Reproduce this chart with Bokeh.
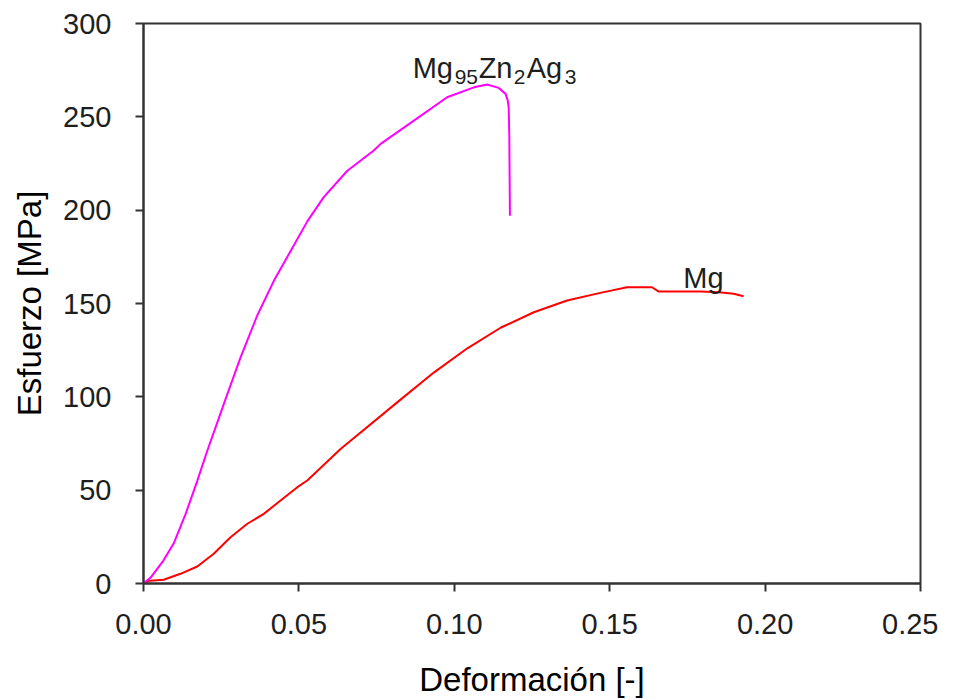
from bokeh.plotting import figure
from bokeh.models import FixedTicker, NumeralTickFormatter, Range1d
from bokeh.embed import file_html
from bokeh.resources import INLINE
from bokeh.core.properties import value

# Mg95Zn2Ag3 alloy
alloy_strain = [0, 0.0023, 0.0064, 0.0097, 0.0135, 0.0173, 0.0205, 0.0258, 0.0312,
                0.0366, 0.0419, 0.0473, 0.0527, 0.058, 0.0655, 0.0741, 0.0763,
                0.087, 0.0977, 0.1063, 0.1106, 0.1143, 0.1165, 0.1172, 0.1175,
                0.1177, 0.1179]
alloy_stress = [0, 3.2, 12.3, 21.4, 37, 55, 71, 96, 121,
                143.6, 162, 178, 194, 207, 221, 232, 235.5,
                248, 260.5, 265.8, 267.3, 265.5, 262.3, 258.7, 255,
                240, 197]

# pure Mg
mg_strain = [0, 0.002, 0.0065, 0.0119, 0.0173, 0.0226, 0.028, 0.0334, 0.0387,
             0.0441, 0.0495, 0.0527, 0.0634, 0.0827, 0.0934, 0.1042,
             0.1149, 0.1256, 0.1363, 0.147, 0.1556, 0.1636, 0.1658, 0.1792,
             0.1851, 0.1899, 0.1931]
mg_stress = [0, 1.5, 2, 5.2, 9.1, 15.9, 24.8, 32, 37.3,
             44.5, 51.6, 55.2, 72, 98.5, 113, 126,
             137, 145.3, 151.6, 155.7, 158.7, 158.7, 156.4, 156.4,
             156, 155.2, 153.9]

x_ticks = [0.0, 0.05, 0.10, 0.15, 0.20, 0.25]
y_ticks = [0, 50, 100, 150, 200, 250, 300]

FONT = "Liberation Sans"
TXT = "#1e1e1e"

p = figure(width=938, height=700, output_backend="svg", toolbar_location=None,
           x_range=Range1d(0, 0.25), y_range=Range1d(0, 300),
           min_border_left=143, min_border_right=18, min_border_top=23,
           min_border_bottom=117)
p.background_fill_color = "white"
p.border_fill_color = "white"
p.outline_line_color = "#333333"
p.outline_line_width = 2
p.grid.visible = False

for ax in (p.xaxis[0], p.yaxis[0]):
    ax.axis_line_color = "#333333"
    ax.axis_line_width = 2
    ax.major_tick_line_color = "#333333"
    ax.major_tick_line_width = 2
    ax.major_tick_out = 8
    ax.major_tick_in = 0
    ax.minor_tick_out = 0
    ax.minor_tick_in = 0
    ax.major_label_text_font = FONT
    ax.major_label_text_font_size = "29px"
    ax.major_label_text_color = TXT
    ax.axis_label_text_font = FONT
    ax.axis_label_text_font_size = "33px"
    ax.axis_label_text_font_style = "normal"
    ax.axis_label_text_color = "#000000"

p.xaxis.ticker = FixedTicker(ticks=x_ticks)
p.yaxis.ticker = FixedTicker(ticks=y_ticks)
p.xaxis.formatter = NumeralTickFormatter(format="0.00")
p.yaxis.formatter = NumeralTickFormatter(format="0")
p.xaxis.axis_label = "Deformación [-]"
p.yaxis.axis_label = "Esfuerzo [MPa]"
p.xaxis.major_label_standoff = 22
p.yaxis.major_label_standoff = 24
p.xaxis.axis_label_standoff = 24
p.yaxis.axis_label_standoff = 12

p.line(mg_strain, mg_stress, line_color="#ff0000", line_width=2)
p.line(alloy_strain, alloy_stress, line_color="#ff00ff", line_width=2)

# labels
p.text(x=[0.1737], y=[163.4], text=["Mg"], text_font=value(FONT),
       text_font_size="29px", text_color=TXT, text_baseline="alphabetic")

pieces = ["Mg", "95", "Zn", "2", "Ag", "3"]
offsets = [0, 42, 66, 101, 114, 152]
sub = [False, True, False, True, False, True]
for t, off, s in zip(pieces, offsets, sub):
    p.text(x=[0.0866], y=[275.9], text=[t], x_offset=off, y_offset=9 if s else 0,
           text_font=value(FONT), text_font_size="21px" if s else "29px",
           text_color=TXT, text_baseline="alphabetic")

open("out.html", "w").write(file_html(p, INLINE))
